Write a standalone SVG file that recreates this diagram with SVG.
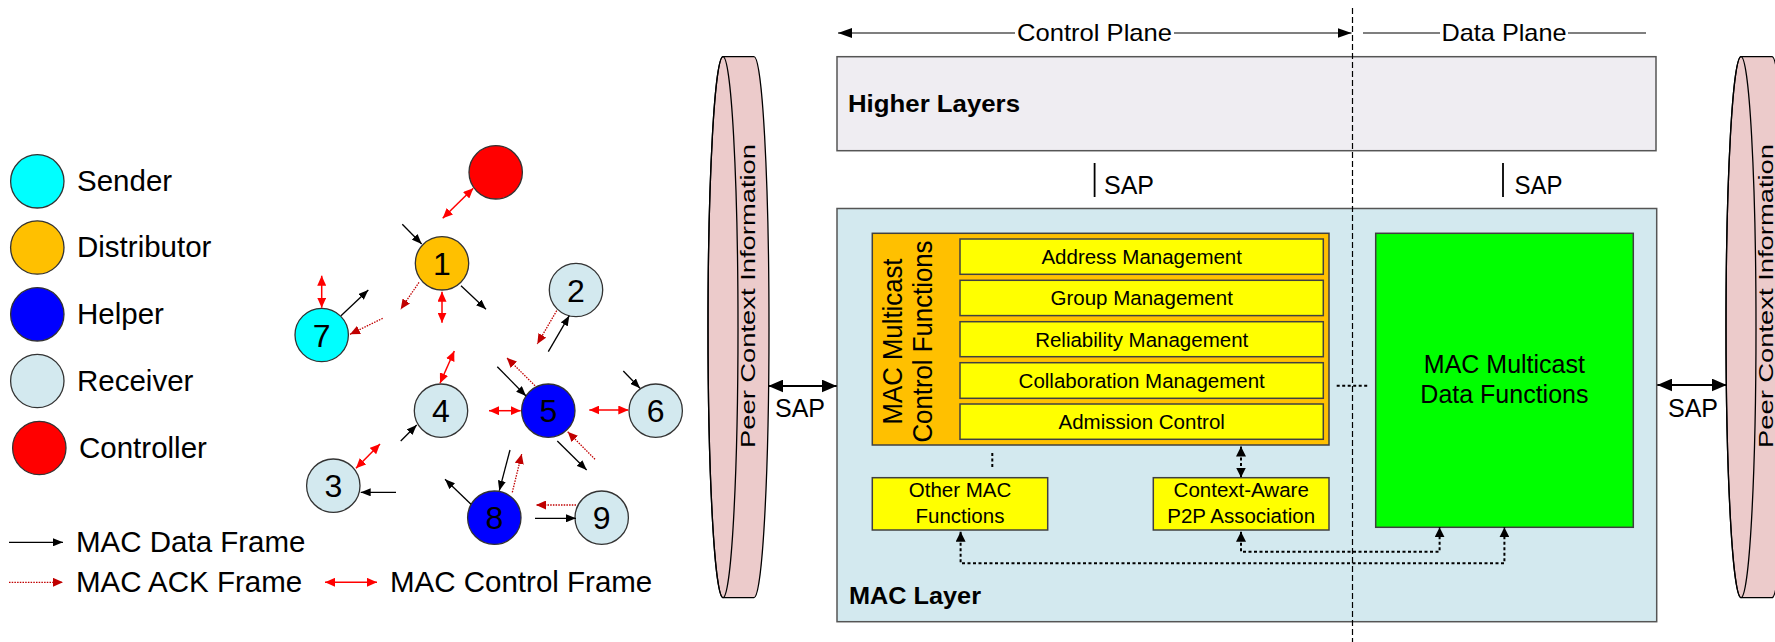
<svg xmlns="http://www.w3.org/2000/svg" width="1775" height="642" viewBox="0 0 1775 642">
<style>
text{font-family:"Liberation Sans",Arial,sans-serif;fill:#000}
.leg{font-size:29.5px}
.num{font-size:32px;text-anchor:middle}
.nd{stroke:#333;stroke-width:1.3}
.dat{stroke:#000;stroke-width:1.3;fill:none;marker-end:url(#mBlk)}
.ack{stroke:#C00000;stroke-width:1.3;stroke-dasharray:1.5 1.2;fill:none;marker-end:url(#mAck)}
.ctl{stroke:#FF0000;stroke-width:1.5;fill:none;marker-start:url(#mRed);marker-end:url(#mRed)}
.box{stroke:#404040;stroke-width:1.5}
.sub{fill:#FFFF00;stroke:#404040;stroke-width:1.5}
.st{font-size:20.5px;text-anchor:middle}
.dot{stroke:#000;stroke-width:2;stroke-dasharray:3 2.5;fill:none}
.cyl{fill:#ECCBCB;stroke:#000;stroke-width:1.3}
</style>
<defs>
<marker id="mBlk" markerUnits="userSpaceOnUse" markerWidth="10" markerHeight="8" refX="10" refY="4" orient="auto"><path d="M0,0 L10,4 L0,8 z" fill="#000"/></marker>
<marker id="mAck" markerUnits="userSpaceOnUse" markerWidth="10" markerHeight="9" refX="10" refY="4.5" orient="auto"><path d="M0,0 L10,4.5 L0,9 z" fill="#C00000"/></marker>
<marker id="mRed" markerUnits="userSpaceOnUse" markerWidth="10" markerHeight="9" refX="10" refY="4.5" orient="auto-start-reverse"><path d="M0,0 L10,4.5 L0,9 z" fill="#FF0000"/></marker>
<marker id="mBig" markerUnits="userSpaceOnUse" markerWidth="15" markerHeight="13" refX="15" refY="6.5" orient="auto-start-reverse"><path d="M0,0 L15,6.5 L0,13 z" fill="#000"/></marker>
<marker id="mDot" markerUnits="userSpaceOnUse" markerWidth="10" markerHeight="10" refX="10" refY="5" orient="auto-start-reverse"><path d="M0,0 L10,5 L0,10 z" fill="#000"/></marker>
<marker id="mPl" markerUnits="userSpaceOnUse" markerWidth="14" markerHeight="10" refX="14" refY="5" orient="auto-start-reverse"><path d="M0,0 L14,5 L0,10 z" fill="#000"/></marker>
</defs>

<!-- Legend -->
<g id="legend">
<circle cx="37.3" cy="181.3" r="26.7" fill="#00FFFF" class="nd"/>
<text class="leg" x="77" y="191">Sender</text>
<circle cx="37.3" cy="247.5" r="26.7" fill="#FFC000" class="nd"/>
<text class="leg" x="77" y="257">Distributor</text>
<circle cx="37.3" cy="314.3" r="26.7" fill="#0000FF" class="nd"/>
<text class="leg" x="77" y="324">Helper</text>
<circle cx="37.3" cy="381" r="26.7" fill="#D3E9EF" class="nd"/>
<text class="leg" x="77" y="391">Receiver</text>
<circle cx="39.3" cy="448" r="26.7" fill="#FF0000" class="nd"/>
<text class="leg" x="79" y="458">Controller</text>
<line x1="9" y1="542.3" x2="63" y2="542.3" class="dat"/>
<text class="leg" x="76" y="552">MAC Data Frame</text>
<line x1="9" y1="582.3" x2="63" y2="582.3" class="ack"/>
<text class="leg" x="76" y="592">MAC ACK Frame</text>
<line x1="325" y1="582.3" x2="377" y2="582.3" class="ctl"/>
<text class="leg" x="390" y="592">MAC Control Frame</text>
</g>

<!-- Network nodes -->
<g id="node-controller"><circle cx="495.7" cy="172.3" r="26.7" fill="#FF0000" class="nd"/></g>
<g id="node-1"><circle cx="442" cy="263.3" r="26.7" fill="#FFC000" class="nd"/><text class="num" x="442" y="274.8">1</text></g>
<g id="node-2"><circle cx="576" cy="290" r="26.7" fill="#D3E9EF" class="nd"/><text class="num" x="576" y="301.5">2</text></g>
<g id="node-7"><circle cx="321.7" cy="335" r="26.7" fill="#00FFFF" class="nd"/><text class="num" x="321.7" y="346.5">7</text></g>
<g id="node-4"><circle cx="441" cy="410.7" r="26.7" fill="#D3E9EF" class="nd"/><text class="num" x="441" y="422.2">4</text></g>
<g id="node-5"><circle cx="548.3" cy="410.7" r="26.7" fill="#0000FF" class="nd"/><text class="num" x="548.3" y="422.2">5</text></g>
<g id="node-6"><circle cx="655.7" cy="410.7" r="26.7" fill="#D3E9EF" class="nd"/><text class="num" x="655.7" y="422.2">6</text></g>
<g id="node-3"><circle cx="333.3" cy="485.7" r="26.7" fill="#D3E9EF" class="nd"/><text class="num" x="333.3" y="497.2">3</text></g>
<g id="node-8"><circle cx="494.3" cy="517.7" r="26.7" fill="#0000FF" class="nd"/><text class="num" x="494.3" y="529.2">8</text></g>
<g id="node-9"><circle cx="601.7" cy="517.7" r="26.7" fill="#D3E9EF" class="nd"/><text class="num" x="601.7" y="529.2">9</text></g>

<!-- Right side boxes -->
<g id="peer-left">
<path class="cyl" d="M723,56.7 L754,56.7 A15,270.5 0 0 1 754,597.7 L723,597.7 A15,270.5 0 0 1 723,56.7 Z"/>
<ellipse cx="723" cy="327.2" rx="15" ry="270.5" fill="none" stroke="#000" stroke-width="1.3"/>
<text transform="translate(755,296) rotate(-90)" text-anchor="middle" font-size="19.5" textLength="304" lengthAdjust="spacingAndGlyphs">Peer Context Information</text>
</g>
<g id="peer-right">
<path class="cyl" d="M1741,56.7 L1772,56.7 A15,270.5 0 0 1 1772,597.7 L1741,597.7 A15,270.5 0 0 1 1741,56.7 Z"/>
<ellipse cx="1741" cy="327.2" rx="15" ry="270.5" fill="none" stroke="#000" stroke-width="1.3"/>
<text transform="translate(1773,296) rotate(-90)" text-anchor="middle" font-size="19.5" textLength="304" lengthAdjust="spacingAndGlyphs">Peer Context Information</text>
</g>
<g id="higher-layers">
<rect x="837" y="56.7" width="819" height="94" fill="#EFEDF2" stroke="#555" stroke-width="1.5"/>
<text x="848" y="112" font-size="24" font-weight="bold" textLength="172" lengthAdjust="spacingAndGlyphs">Higher Layers</text>
</g>
<g id="mac-layer">
<rect x="837" y="208.5" width="819.7" height="413.2" fill="#D3E9EF" stroke="#555" stroke-width="1.5"/>
<text x="849" y="604" font-size="24" font-weight="bold" textLength="132" lengthAdjust="spacingAndGlyphs">MAC Layer</text>
</g>
<g id="mac-control">
<rect x="872.3" y="233.3" width="456.7" height="211.7" fill="#FFC000" class="box"/>
<text transform="translate(901.7,341.5) rotate(-90)" text-anchor="middle" font-size="28" textLength="166" lengthAdjust="spacingAndGlyphs">MAC Multicast</text>
<text transform="translate(931.5,341.5) rotate(-90)" text-anchor="middle" font-size="28" textLength="202" lengthAdjust="spacingAndGlyphs">Control Functions</text>
</g>
<g id="address-mgmt"><rect x="960" y="239" width="363.3" height="35.3" class="sub"/><text class="st" x="1141.7" y="264">Address Management</text></g>
<g id="group-mgmt"><rect x="960" y="280.3" width="363.3" height="35.3" class="sub"/><text class="st" x="1141.7" y="305.3">Group Management</text></g>
<g id="reliability-mgmt"><rect x="960" y="321.7" width="363.3" height="35" class="sub"/><text class="st" x="1141.7" y="346.5">Reliability Management</text></g>
<g id="collab-mgmt"><rect x="960" y="362.7" width="363.3" height="35.6" class="sub"/><text class="st" x="1141.7" y="387.8">Collaboration Management</text></g>
<g id="admission"><rect x="960" y="404" width="363.3" height="35.3" class="sub"/><text class="st" x="1141.7" y="429">Admission Control</text></g>
<g id="other-mac"><rect x="872.3" y="477.7" width="175.4" height="52.3" class="sub"/><text class="st" x="960" y="497.3">Other MAC</text><text class="st" x="960" y="522.7">Functions</text></g>
<g id="context-aware"><rect x="1153.3" y="477.7" width="175.7" height="52.3" class="sub"/><text class="st" x="1241.2" y="497.3">Context-Aware</text><text class="st" x="1241.2" y="522.7">P2P Association</text></g>
<g id="data-functions">
<rect x="1375.7" y="233.3" width="257.6" height="294" fill="#00FF00" class="box"/>
<text x="1504.4" y="372.7" font-size="25" text-anchor="middle">MAC Multicast</text>
<text x="1504.4" y="403.3" font-size="25" text-anchor="middle">Data Functions</text>
</g>
<g id="plane-labels">
<line x1="838" y1="33" x2="1015" y2="33" stroke="#555" stroke-width="1.3" marker-start="url(#mPl)"/>
<line x1="1174" y1="33" x2="1351.5" y2="33" stroke="#555" stroke-width="1.3" marker-end="url(#mPl)"/>
<text x="1094.5" y="41" font-size="24" text-anchor="middle" textLength="155" lengthAdjust="spacingAndGlyphs">Control Plane</text>
<line x1="1363" y1="33" x2="1440" y2="33" stroke="#555" stroke-width="1.3"/>
<line x1="1568" y1="33" x2="1646" y2="33" stroke="#555" stroke-width="1.3"/>
<text x="1504" y="41" font-size="24" text-anchor="middle" textLength="125" lengthAdjust="spacingAndGlyphs">Data Plane</text>
<line x1="1094.6" y1="163" x2="1094.6" y2="197" stroke="#000" stroke-width="1.8"/>
<text x="1104" y="194" font-size="25" textLength="50" lengthAdjust="spacingAndGlyphs">SAP</text>
<line x1="1503" y1="163" x2="1503" y2="197" stroke="#000" stroke-width="1.8"/>
<text x="1514.6" y="194" font-size="25" textLength="48" lengthAdjust="spacingAndGlyphs">SAP</text>
<text x="800" y="417" font-size="25" text-anchor="middle">SAP</text>
<text x="1693" y="417" font-size="25" text-anchor="middle">SAP</text>
</g>

<!-- Connectors -->
<g id="connectors">
<line x1="402.3" y1="224.3" x2="421.7" y2="244" class="dat"/>
<line x1="461" y1="285.7" x2="486" y2="309.3" class="dat"/>
<line x1="341" y1="315.7" x2="368.3" y2="290" class="dat"/>
<line x1="548.3" y1="351.7" x2="569.3" y2="315.7" class="dat"/>
<line x1="497.3" y1="366.7" x2="526" y2="396" class="dat"/>
<line x1="623.3" y1="371" x2="640" y2="388.3" class="dat"/>
<line x1="557.3" y1="441" x2="586.7" y2="470" class="dat"/>
<line x1="400.7" y1="441" x2="416.7" y2="425" class="dat"/>
<line x1="396" y1="492.3" x2="360.7" y2="492.3" class="dat"/>
<line x1="510" y1="450" x2="499.3" y2="490.7" class="dat"/>
<line x1="471" y1="504.3" x2="445" y2="479.3" class="dat"/>
<line x1="535" y1="518.3" x2="576" y2="518.3" class="dat"/>

<line x1="419" y1="282.3" x2="400.7" y2="309.3" class="ack"/>
<line x1="382.7" y1="318.3" x2="350" y2="334.3" class="ack"/>
<line x1="556.7" y1="310.7" x2="537.3" y2="344" class="ack"/>
<line x1="535" y1="385.7" x2="506.7" y2="357.7" class="ack"/>
<line x1="595" y1="459.3" x2="567.7" y2="431.7" class="ack"/>
<line x1="512.3" y1="492.3" x2="521.7" y2="454" class="ack"/>
<line x1="576" y1="505" x2="536" y2="505" class="ack"/>

<line x1="442.7" y1="218.3" x2="473.3" y2="188.3" class="ctl"/>
<line x1="442" y1="291.7" x2="442" y2="322.7" class="ctl"/>
<line x1="321.7" y1="275.7" x2="321.7" y2="307.7" class="ctl"/>
<line x1="454.3" y1="351" x2="440" y2="383.3" class="ctl"/>
<line x1="489" y1="410.7" x2="520.7" y2="410.7" class="ctl"/>
<line x1="589.3" y1="410" x2="628.3" y2="410" class="ctl"/>
<line x1="380" y1="444" x2="356" y2="468.3" class="ctl"/>

<line x1="768.3" y1="386" x2="836.7" y2="386" stroke="#000" stroke-width="2" marker-start="url(#mBig)" marker-end="url(#mBig)"/>
<line x1="1657.3" y1="385" x2="1726.7" y2="385" stroke="#000" stroke-width="2" marker-start="url(#mBig)" marker-end="url(#mBig)"/>

<line x1="1352.5" y1="8" x2="1352.5" y2="642" stroke="#000" stroke-width="1.2" stroke-dasharray="6 3"/>

<path class="dot" d="M960.6,531.7 V563.3 H1504.4 V527.3" marker-start="url(#mDot)" marker-end="url(#mDot)"/>
<path class="dot" d="M1241,531.7 V551.7 H1439.6 V527.3" marker-start="url(#mDot)" marker-end="url(#mDot)"/>
<path class="dot" d="M1241,446.5 V477.5" marker-start="url(#mDot)" marker-end="url(#mDot)"/>
<path class="dot" d="M992.3,453 V468"/>
<path class="dot" d="M1336.7,385.7 H1368.3"/>
</g>
</svg>
